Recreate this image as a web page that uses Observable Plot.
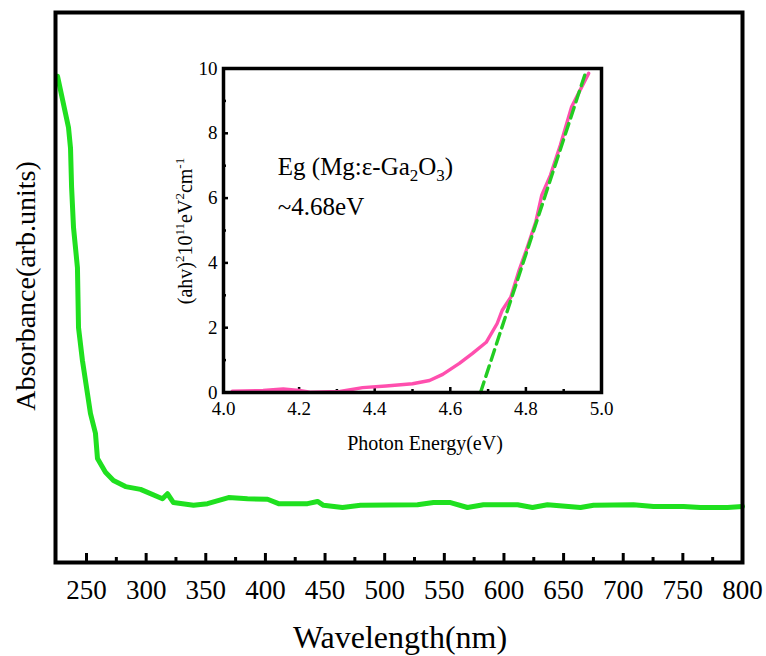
<!DOCTYPE html>
<html><head><meta charset="utf-8">
<script src="https://cdn.jsdelivr.net/npm/d3@7"></script>
<script src="https://cdn.jsdelivr.net/npm/@observablehq/plot@0.6"></script>
<style>
body{margin:0;background:#fff}
#wrap{position:relative;width:766px;height:656px;background:#fff}
#wrap svg{position:absolute;left:0;top:0}
#wrap text{font-family:"Liberation Serif","Times New Roman",serif}
</style></head><body><div id="wrap"></div>
<script>
// ---- main spectrum ----
const wavelength = [225.7,234.9,236.6,237.5,239.1,242.4,243.3,246.6,250.8,253.3,257.5,259.2,265.9,272.6,282.7,295.3,313.7,317.9,322.9,339.7,351.4,369.1,385.0,401.8,411.0,435.3,443.7,448.7,464.6,479.7,527.5,540.9,555.2,569.4,582.8,611.4,623.9,636.5,664.2,675.1,708.6,725.4,750.5,764.8,787.4,800];
const absorbance = [0.884,0.791,0.753,0.682,0.609,0.536,0.427,0.367,0.307,0.271,0.235,0.189,0.164,0.149,0.138,0.133,0.116,0.125,0.109,0.104,0.107,0.118,0.116,0.115,0.107,0.107,0.111,0.104,0.100,0.104,0.105,0.109,0.109,0.100,0.105,0.105,0.100,0.105,0.100,0.104,0.105,0.102,0.102,0.100,0.100,0.102];
const mainTicks = [250,300,350,400,450,500,550,600,650,700,750,800];
const mainMinorTicks = [275,325,375,425,475,525,575,625,675,725,775];

// ---- inset Tauc plot ----
const photonEnergy = [4.023,4.105,4.158,4.200,4.229,4.308,4.368,4.430,4.500,4.545,4.580,4.624,4.658,4.695,4.724,4.737,4.760,4.782,4.801,4.826,4.842,4.865,4.891,4.921,4.966];
const ahv2 = [0.04,0.06,0.11,0.06,0.01,0.03,0.15,0.20,0.27,0.37,0.56,0.90,1.20,1.55,2.13,2.53,2.94,3.77,4.39,5.26,6.09,6.71,7.63,8.82,9.85];
const fitEnergy = [4.68,4.958];
const fitValue = [0,9.88];
const insetXTicks = [4.0,4.2,4.4,4.6,4.8,5.0];
const insetXMajor = [4.2,4.4,4.6,4.8];
const insetXMinor = [4.1,4.3,4.5,4.7,4.9];
const insetYTicks = [0,2,4,6,8,10];
const insetYMajor = [2,4,6,8];
const insetYMinor = [1,3,5,7,9];

const GREEN = "#1fe01f", PINK = "#ff4fae", FIT = "#22cc22";
const FONT = "Liberation Serif, Times New Roman, serif";
const W = 766, H = 656;
const M = {left:55, right:24, top:12, bottom:94};
const mainInnerH = H - M.top - M.bottom;
const I = {left:223, right:165, top:68, bottom:264};
const insetInnerH = H - I.top - I.bottom;
const insetInnerW = W - I.left - I.right;

const mainData = wavelength.map((w,i)=>({w, a:absorbance[i]}));
const insetData = photonEnergy.map((e,i)=>({e, v:ahv2[i]}));
const fitData = fitEnergy.map((e,i)=>({e, v:fitValue[i]}));

const p1 = Plot.plot({
  width: W, height: H,
  marginLeft: M.left, marginRight: M.right, marginTop: M.top, marginBottom: M.bottom,
  style: {background:"white", fontFamily: FONT, color:"black"},
  x: {domain:[224,800]},
  y: {domain:[0,1], axis:null},
  marks: [
    Plot.line(mainData, {x:"w", y:"a", stroke:GREEN, strokeWidth:5, strokeLinejoin:"round", strokeLinecap:"round"}),
    Plot.tickX(mainTicks, {x:d=>d, insetTop: mainInnerH-9, stroke:"black", strokeWidth:3}),
    Plot.tickX(mainMinorTicks, {x:d=>d, insetTop: mainInnerH-5, stroke:"black", strokeWidth:3}),
    Plot.axisX({ticks: mainTicks, tickSize:0, tickPadding:17, fontSize:27, label:null, tickFormat:d=>String(d), fill:"black"}),
    Plot.frame({stroke:"black", strokeWidth:4})
  ]
});

const p2 = Plot.plot({
  width: W, height: H,
  marginLeft: I.left, marginRight: I.right, marginTop: I.top, marginBottom: I.bottom,
  style: {background:"none", fontFamily: FONT, color:"black", overflow:"visible"},
  x: {domain:[4,5]},
  y: {domain:[0,10]},
  marks: [
    Plot.frame({fill:"white", stroke:null}),
    Plot.tickX(insetXMajor, {x:d=>d, insetTop: insetInnerH-5, stroke:"black", strokeWidth:2.5}),
    Plot.tickX(insetXMinor, {x:d=>d, insetTop: insetInnerH-3, stroke:"black", strokeWidth:2.5}),
    Plot.tickY(insetYMajor, {y:d=>d, insetRight: insetInnerW-5, stroke:"black", strokeWidth:2.5}),
    Plot.tickY(insetYMinor, {y:d=>d, insetRight: insetInnerW-3, stroke:"black", strokeWidth:2.5}),
    Plot.line(insetData, {x:"e", y:"v", stroke:PINK, strokeWidth:3.4, strokeLinejoin:"round"}),
    Plot.line(fitData, {x:"e", y:"v", stroke:FIT, strokeWidth:3.4, strokeDasharray:"11,6"}),
    Plot.axisX({ticks: insetXTicks, tickSize:0, tickPadding:9, fontSize:19, label:null, tickFormat:d3.format(".1f"), fill:"black"}),
    Plot.axisY({ticks: insetYTicks, tickSize:0, tickPadding:6, fontSize:19, label:null, tickFormat:d=>String(d), fill:"black"}),
    Plot.frame({stroke:"black", strokeWidth:3.5})
  ]
});

const wrap = document.getElementById("wrap");
wrap.appendChild(p1);
wrap.appendChild(p2);

// axis titles for main chart
const s1 = d3.select(p1);
s1.append("text").attr("x", 400).attr("y", 648).attr("text-anchor","middle")
  .attr("font-size", 32).attr("fill","black").text("Wavelength(nm)");
s1.append("text").attr("transform","translate(35,286) rotate(-90)").attr("text-anchor","middle")
  .attr("font-size", 28).attr("fill","black").text("Absorbance(arb.units)");

// inset titles and annotation
const s2 = d3.select(p2);
s2.append("text").attr("x", 425).attr("y", 450).attr("text-anchor","middle")
  .attr("font-size", 20).attr("fill","black").text("Photon Energy(eV)");

const yl = s2.append("text").attr("transform","translate(192,231) rotate(-90)").attr("text-anchor","middle")
  .attr("font-size", 20).attr("fill","black");
const parts = [["(ahv)",0],["2",1],["10",0],["11",1],["eV",0],["2",1],["cm",0],["-1",1]];
let prevSup = 0;
parts.forEach(([t,sup])=>{
  const ts = yl.append("tspan").text(t);
  const dy = sup ? (prevSup ? 0 : -8) : (prevSup ? 8 : 0);
  if (dy) ts.attr("dy", dy);
  if (sup) ts.attr("font-size", 13);
  prevSup = sup;
});

const sx = p2.scale("x"), sy = p2.scale("y");
const ax = sx.apply(4.145);
const eg = s2.append("text").attr("x", ax).attr("y", sy.apply(6.70)).attr("text-anchor","start")
  .attr("font-size", 25).attr("fill","black");
eg.append("tspan").text("Eg (Mg:ε-Ga");
eg.append("tspan").attr("dy",6).attr("font-size",17).text("2");
eg.append("tspan").attr("dy",-6).text("O");
eg.append("tspan").attr("dy",6).attr("font-size",17).text("3");
eg.append("tspan").attr("dy",-6).text(")");
s2.append("text").attr("x", ax).attr("y", sy.apply(5.46)).attr("text-anchor","start")
  .attr("font-size", 25).attr("fill","black").text("~4.68eV");
</script></body></html>
